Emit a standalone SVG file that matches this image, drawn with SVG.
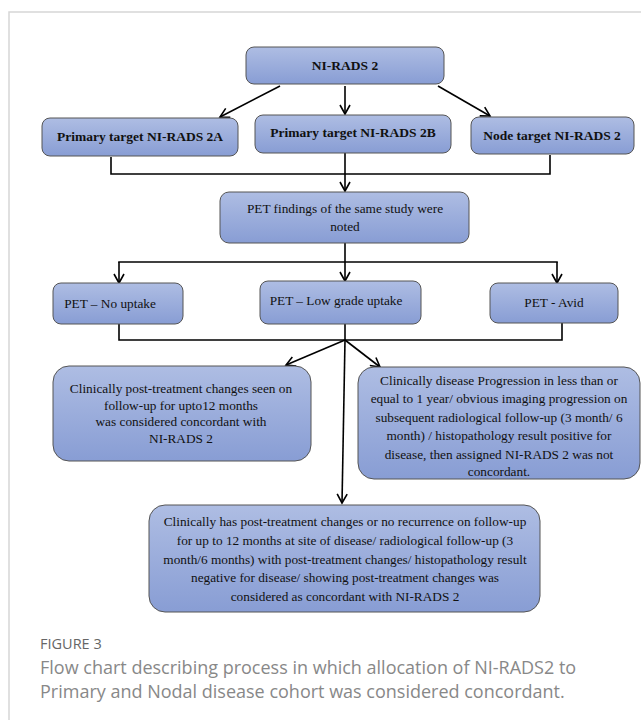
<svg xmlns="http://www.w3.org/2000/svg" width="641" height="720" viewBox="0 0 641 720">
<defs>
<linearGradient id="g" x1="0" y1="0" x2="0" y2="1">
<stop offset="0" stop-color="#aebde3"/>
<stop offset="1" stop-color="#889dd4"/>
</linearGradient>
<marker id="ah" viewBox="0 0 12 12" refX="10" refY="6" markerWidth="12" markerHeight="12" markerUnits="userSpaceOnUse" orient="auto">
<path d="M1,1 L10,6 L1,11" fill="none" stroke="#000" stroke-width="1.6"/>
</marker>
</defs>
<style>
.box{fill:url(#g);stroke:#555;stroke-width:1}
.t{font-family:"Liberation Serif","Times New Roman",serif;font-size:13.3px;fill:#111;text-anchor:middle}
.b{font-weight:bold;font-size:13.5px}
.ln{fill:none;stroke:#000;stroke-width:1.6}
.cap1{font-family:"Open Sans",sans-serif;font-size:14.5px;fill:#666}
.cap2{font-family:"Open Sans",sans-serif;font-size:18px;fill:#888}
</style>
<rect width="641" height="720" fill="#fff"/>
<path d="M9,720 V12 H641" fill="none" stroke="#d6d6d6" stroke-width="1.5"/>

<g id="connectors">
<line class="ln" x1="280" y1="86" x2="220" y2="117" marker-end="url(#ah)"/>
<line class="ln" x1="345" y1="86" x2="345" y2="114" marker-end="url(#ah)"/>
<line class="ln" x1="438" y1="86" x2="490" y2="116" marker-end="url(#ah)"/>
<polyline class="ln" points="111,157 111,174 550,174 550,155"/>
<line class="ln" x1="345" y1="153" x2="345" y2="191" marker-end="url(#ah)"/>
<line class="ln" x1="345" y1="243" x2="345" y2="281" marker-end="url(#ah)"/>
<line class="ln" x1="118.2" y1="262" x2="557.8" y2="262"/>
<line class="ln" x1="119" y1="262" x2="119" y2="283" marker-end="url(#ah)"/>
<line class="ln" x1="557" y1="262" x2="557" y2="283" marker-end="url(#ah)"/>
<polyline class="ln" points="119,324 119,340 562,340 562,323"/>
<line class="ln" x1="345" y1="324" x2="345" y2="340"/>
<line class="ln" x1="345" y1="340" x2="286" y2="365" marker-end="url(#ah)"/>
<line class="ln" x1="345" y1="340" x2="380" y2="367" marker-end="url(#ah)"/>
<line class="ln" x1="345" y1="340" x2="342" y2="503" marker-end="url(#ah)"/>
</g>

<g id="n-nirads2">
<rect class="box" x="246" y="47" width="198" height="37" rx="8"/>
<text class="t b" x="345" y="70">NI-RADS 2</text>
</g>
<g id="n-2a">
<rect class="box" x="42" y="118" width="196" height="38" rx="8"/>
<text class="t b" x="140" y="141">Primary target NI-RADS 2A</text>
</g>
<g id="n-2b">
<rect class="box" x="255" y="115" width="196" height="38" rx="8"/>
<text class="t b" x="353" y="137">Primary target NI-RADS 2B</text>
</g>
<g id="n-node">
<rect class="box" x="471" y="117" width="163" height="37" rx="8"/>
<text class="t b" x="552" y="140">Node target NI-RADS 2</text>
</g>
<g id="n-pet">
<rect class="box" x="220" y="192" width="249" height="51" rx="9"/>
<text class="t" x="345" y="213">PET findings of the same study were</text>
<text class="t" x="345" y="231">noted</text>
</g>
<g id="n-noup">
<rect class="box" x="53" y="283" width="130" height="41" rx="8"/>
<text class="t" x="110" y="308">PET – No uptake</text>
</g>
<g id="n-low">
<rect class="box" x="260" y="281" width="161" height="43" rx="8"/>
<text class="t" x="336" y="305">PET – Low grade uptake</text>
</g>
<g id="n-avid">
<rect class="box" x="490" y="283" width="128" height="40" rx="8"/>
<text class="t" x="554" y="307">PET - Avid</text>
</g>
<g id="n-left">
<rect class="box" x="53" y="366" width="258" height="95" rx="16"/>
<text class="t" x="181" y="393">Clinically post-treatment changes seen on</text>
<text class="t" x="181" y="410">follow-up for upto12 months</text>
<text class="t" x="181" y="426">was considered concordant with</text>
<text class="t" x="181" y="443">NI-RADS 2</text>
</g>
<g id="n-right">
<rect class="box" x="358" y="367" width="282" height="112" rx="16"/>
<text class="t" x="499" y="385">Clinically disease Progression in less than or</text>
<text class="t" x="499" y="403">equal to 1 year/ obvious imaging progression on</text>
<text class="t" x="499" y="422">subsequent radiological follow-up (3 month/ 6</text>
<text class="t" x="499" y="440">month) / histopathology result positive for</text>
<text class="t" x="499" y="459">disease, then assigned NI-RADS 2 was not</text>
<text class="t" x="499" y="476">concordant.</text>
</g>
<g id="n-bottom">
<rect class="box" x="149" y="505" width="391" height="107" rx="16"/>
<text class="t" x="345" y="526">Clinically has post-treatment changes or no recurrence on follow-up</text>
<text class="t" x="345" y="545">for up to 12 months at site of disease/ radiological follow-up (3</text>
<text class="t" x="345" y="564">month/6 months) with post-treatment changes/ histopathology result</text>
<text class="t" x="345" y="582">negative for disease/ showing post-treatment changes was</text>
<text class="t" x="345" y="601">considered as concordant with NI-RADS 2</text>
</g>

<text class="cap1" x="40" y="649">FIGURE 3</text>
<text class="cap2" x="40" y="674">Flow chart describing process in which allocation of NI-RADS2 to</text>
<text class="cap2" x="40" y="698">Primary and Nodal disease cohort was considered concordant.</text>
</svg>
